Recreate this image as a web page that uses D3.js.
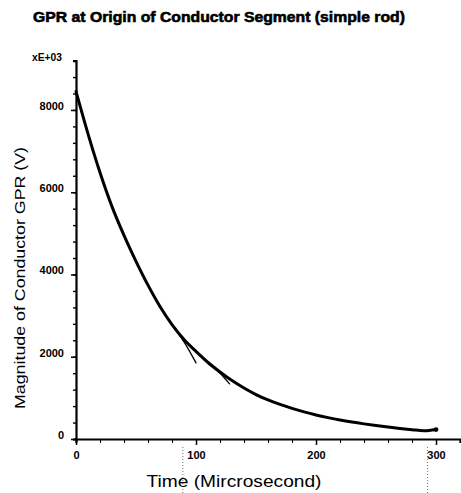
<!DOCTYPE html>
<html>
<head>
<meta charset="utf-8">
<script src="https://cdn.jsdelivr.net/npm/d3@7"></script>
<style>
  body { margin: 0; background: #fff; }
  svg { display: block; }
  .axis path, .axis line { stroke: #000; }
  .axis text { font-family: "Liberation Sans", Arial, sans-serif; font-weight: bold; font-size: 11px; fill: #000; }
</style>
</head>
<body>
<div id="chart"></div>
<script>
// main response, full 300 us run
var timeMain = [0, 10, 20, 30, 40, 50, 60, 70, 80, 90, 100, 110, 120, 130, 140, 150,
	160, 170, 180, 190, 200, 210, 220, 230, 240, 250, 260, 270, 280, 290, 300];
var gprMain = [8450, 7420, 6480, 5650, 4950, 4320, 3740, 3220, 2780, 2420, 2130, 1860, 1630, 1420, 1240, 1080,
	950, 840, 745, 660, 585, 520, 462, 412, 368, 328, 290, 256, 226, 200, 230];

// shorter runs that stop early
var timeShortA = [0, 10, 20, 30, 40, 50, 60, 70, 80, 90, 100];
var gprShortA = [8450, 7420, 6480, 5650, 4950, 4320, 3740, 3220, 2770, 2360, 1850];
var timeShortB = [0, 10, 20, 30, 40, 50, 60, 70, 80, 90, 100, 110, 120, 128];
var gprShortB = [8450, 7420, 6480, 5650, 4950, 4320, 3740, 3220, 2780, 2420, 2130, 1850, 1600, 1340];

var xTicks = [0, 100, 200, 300];
var xTickLabels = ["0", "100", "200", "300"];
var yTicks = [0, 2000, 4000, 6000, 8000];
var yTickLabels = ["0", "2000", "4000", "6000", "8000"];
// faint dotted scan lines under the axis
var guideTimes = [89, 293];

var width = 461, height = 493;

var svg = d3.select("#chart").append("svg")
	.attr("width", width)
	.attr("height", height);

var xScale = d3.scaleLinear().domain([0, 320]).range([76, 460]);
var yScale = d3.scaleLinear().domain([0, 9200]).range([439, 60.6]);

// title
svg.append("text")
	.attr("x", 33)
	.attr("y", 22)
	.attr("textLength", 372)
	.attr("lengthAdjust", "spacingAndGlyphs")
	.style("font-family", "Liberation Sans, Arial, sans-serif")
	.style("font-weight", "bold")
	.style("font-size", "15px")
	.style("stroke", "#000")
	.style("stroke-width", "0.6")
	.text("GPR at Origin of Conductor Segment (simple rod)");

// exponent note
svg.append("text")
	.attr("x", 32)
	.attr("y", 61)
	.attr("textLength", 30)
	.attr("lengthAdjust", "spacingAndGlyphs")
	.style("font-family", "Liberation Sans, Arial, sans-serif")
	.style("font-weight", "bold")
	.style("font-size", "10px")
	.text("xE+03");

// guide lines
svg.selectAll("line.guide")
	.data(guideTimes)
	.enter().append("line")
	.attr("class", "guide")
	.attr("x1", function(d) { return xScale(d); })
	.attr("x2", function(d) { return xScale(d); })
	.attr("y1", 447)
	.attr("y2", height)
	.attr("stroke", "#444")
	.attr("stroke-width", 0.8)
	.attr("stroke-dasharray", "1,2");

// x axis, minor ticks every 20
var xAxisMinor = d3.axisBottom(xScale)
	.tickValues(d3.range(0, 321, 20))
	.tickSize(4)
	.tickFormat("");
svg.append("g")
	.attr("class", "axis")
	.attr("transform", "translate(0," + yScale(0) + ")")
	.call(xAxisMinor)
	.call(function(g) { g.select(".domain").attr("stroke-width", 2.2); });

var xAxis = d3.axisBottom(xScale)
	.tickValues(xTicks)
	.tickSize(6)
	.tickPadding(6)
	.tickFormat(function(d, i) { return xTickLabels[i]; });
svg.append("g")
	.attr("class", "axis")
	.attr("transform", "translate(0," + yScale(0) + ")")
	.call(xAxis)
	.call(function(g) {
		g.select(".domain").remove();
		g.selectAll("line").attr("stroke-width", 1.5);
	});

// y axis, minor ticks every 400
var yAxisMinor = d3.axisLeft(yScale)
	.tickValues(d3.range(0, 9201, 400))
	.tickSize(3)
	.tickFormat("");
svg.append("g")
	.attr("class", "axis")
	.attr("transform", "translate(" + xScale(0) + ",0)")
	.call(yAxisMinor)
	.call(function(g) {
		g.select(".domain").attr("stroke-width", 2.2);
		g.selectAll("line").attr("stroke-width", 1.4);
	});

var yAxis = d3.axisLeft(yScale)
	.tickValues(yTicks)
	.tickSize(5)
	.tickPadding(7)
	.tickFormat(function(d, i) { return yTickLabels[i]; });
svg.append("g")
	.attr("class", "axis")
	.attr("transform", "translate(" + xScale(0) + ",0)")
	.call(yAxis)
	.call(function(g) {
		g.select(".domain").remove();
		g.selectAll("line").attr("stroke-width", 1.5);
		g.selectAll("text").attr("dy", "-0.05em");
	});

// axis titles
svg.append("text")
	.attr("x", 234)
	.attr("y", 487)
	.attr("text-anchor", "middle")
	.attr("textLength", 175)
	.attr("lengthAdjust", "spacingAndGlyphs")
	.style("font-family", "Liberation Sans, Arial, sans-serif")
	.style("font-size", "17px")
	.text("Time (Mircrosecond)");

svg.append("text")
	.attr("transform", "translate(25,278) rotate(-90)")
	.attr("text-anchor", "middle")
	.attr("textLength", 262)
	.attr("lengthAdjust", "spacingAndGlyphs")
	.style("font-family", "Liberation Sans, Arial, sans-serif")
	.style("font-size", "15px")
	.text("Magnitude of Conductor GPR (V)");

// curves
var line = d3.line()
	.x(function(d) { return xScale(d[0]); })
	.y(function(d) { return yScale(d[1]); })
	.curve(d3.curveMonotoneX);

function pairs(ts, vs) {
	return ts.map(function(t, i) { return [t, vs[i]]; });
}

var series = [
	{ data: pairs(timeShortA, gprShortA), w: 1.3 },
	{ data: pairs(timeShortB, gprShortB), w: 1.3 },
	{ data: pairs(timeMain, gprMain), w: 3 }
];

svg.selectAll("path.curve")
	.data(series)
	.enter().append("path")
	.attr("class", "curve")
	.attr("d", function(d) { return line(d.data); })
	.attr("fill", "none")
	.attr("stroke", "#000")
	.attr("stroke-width", function(d) { return d.w; })
	.attr("stroke-linejoin", "round")
	.attr("stroke-linecap", "round");

// end marker on the main run
var last = series[2].data[series[2].data.length - 1];
svg.append("circle")
	.attr("cx", xScale(last[0]))
	.attr("cy", yScale(last[1]))
	.attr("r", 2.4)
	.attr("fill", "#000");
</script>
</body>
</html>
